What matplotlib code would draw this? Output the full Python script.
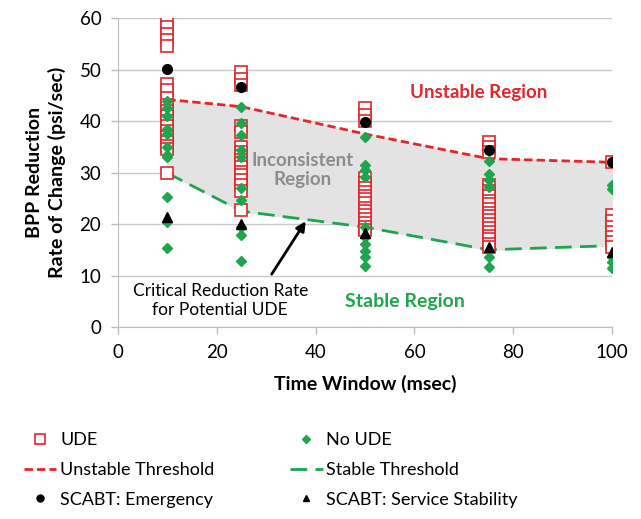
import matplotlib.pyplot as plt
from matplotlib.lines import Line2D

plt.rcParams['font.family'] = ['Lato', 'DejaVu Sans']

# --- dados ---
janelas = [10, 25, 50, 75, 100]

ude = {
    10: [59.5, 58.3, 57, 55.8, 54.5, 47.2, 46, 44.5, 43.2, 42, 41, 40, 39, 38, 37, 36, 35.2, 34.5, 30],
    25: [49.5, 48.2, 47, 39, 37.8, 35, 34, 33.2, 32.5, 31.8, 31, 30.2, 29.5, 28.5, 27.5, 26.5, 22.8],
    50: [42.5, 41.2, 40, 29, 28, 27, 26.2, 25.5, 24.8, 24, 23.2, 22.5, 21.8, 21, 20.2, 19.5, 18.8],
    75: [36, 35, 34, 27.5, 26.5, 25.5, 24.5, 23.8, 23, 22.2, 21.5, 20.8, 20, 19.2, 18.5, 17.7, 17, 16.2, 15.5],
    100: [32, 21.8, 20.5, 19.5, 18.5, 17.5, 16.5, 15.5],
}
sem_ude = {
    10: [44, 42.5, 41, 38.5, 37.5, 35, 33.5, 33, 25.3, 20.3, 15.4],
    25: [42.8, 39.6, 37.3, 34.4, 33, 27, 24.6, 19.4, 17.8, 12.9],
    50: [37, 31.4, 30.5, 29.2, 19.4, 17.4, 16.2, 14.8, 13.5, 11.9],
    75: [32.2, 29.8, 28.5, 27.2, 13.5, 11.6],
    100: [27.5, 26.8, 13.5, 12.6, 11.4],
}
emergencia = [50.1, 46.7, 39.9, 34.4, 32.1]
estabilidade = [21.3, 20.1, 18.2, 15.5, 14.5]
limiar_instavel = [44.2, 42.8, 37.5, 32.7, 32.0]
limiar_estavel = [29.9, 22.5, 19.4, 15.0, 15.8]

vermelho = '#e3262b'
verde = '#1ea54e'
cinza_eixo = '#bdbdbd'

fig = plt.figure(figsize=(6.41, 5.19), dpi=100)
ax = fig.add_axes([0.184, 0.37, 0.771, 0.595])

# região inconsistente
ax.fill_between(janelas, limiar_estavel, limiar_instavel, color='#e3e3e3', zorder=1)
ax.plot(janelas, limiar_instavel, color=vermelho, lw=2, dashes=(3, 1.5), zorder=2)
ax.plot(janelas, limiar_estavel, color=verde, lw=2, dashes=(6, 3), zorder=2)

for t in janelas:
    ax.plot([t] * len(ude[t]), ude[t], ls='none', marker='s', ms=8.5,
            mfc='white', mec=vermelho, mew=1.2, zorder=3)
for t in janelas:
    ax.plot([t] * len(sem_ude[t]), sem_ude[t], ls='none', marker='D', ms=5.5,
            color=verde, zorder=4)
ax.plot(janelas, emergencia, ls='none', marker='o', ms=7, color='black', zorder=5)
ax.plot(janelas, estabilidade, ls='none', marker='^', ms=7, color='black', zorder=5)

# textos
ax.text(73, 45.5, 'Unstable Region', color=vermelho, fontsize=13.5, fontweight='bold',
        ha='center', va='center')
ax.text(37.4, 30.5, 'Inconsistent\nRegion', color='#8c8c8c', fontsize=13.5, fontweight='bold',
        ha='center', va='center', linespacing=1.15)
ax.text(58, 5, 'Stable Region', color=verde, fontsize=14, fontweight='bold',
        ha='center', va='center')
ax.text(20.7, 5.2, 'Critical Reduction Rate\nfor Potential UDE', fontsize=12.5,
        ha='center', va='center', linespacing=1.2,
        bbox=dict(facecolor='white', edgecolor='none', pad=1))
ax.annotate('', xy=(38.3, 21), xytext=(30.8, 9.8),
            arrowprops=dict(arrowstyle='-|>', color='black', lw=2, mutation_scale=14))

ax.set_xlim(0, 100)
ax.set_ylim(0, 60)
ax.set_xticks(range(0, 101, 20))
ax.set_yticks(range(0, 61, 10))
ax.tick_params(labelsize=13.5, length=5, width=1, color=cinza_eixo, pad=7)
ax.yaxis.grid(True, color='#c8c8c8', lw=1)
ax.set_axisbelow(True)
for lado in ['top', 'right']:
    ax.spines[lado].set_visible(False)
for lado in ['bottom', 'left']:
    ax.spines[lado].set_color(cinza_eixo)
ax.set_xlabel('Time Window (msec)', fontsize=14, fontweight='bold', labelpad=10)
ax.set_ylabel('BPP Reduction\nRate of Change (psi/sec)', fontsize=14, fontweight='bold',
              labelpad=10, linespacing=1.3)

handles = [
    Line2D([], [], ls='none', marker='s', ms=7, mfc='white', mec=vermelho, mew=1.2),
    Line2D([], [], color=vermelho, lw=2, dashes=(3, 1.5)),
    Line2D([], [], ls='none', marker='o', ms=5, color='black'),
    Line2D([], [], ls='none', marker='D', ms=4, color=verde),
    Line2D([], [], color=verde, lw=2, dashes=(6, 3)),
    Line2D([], [], ls='none', marker='^', ms=5, color='black'),
]
rotulos = ['UDE', 'Unstable Threshold', 'SCABT: Emergency',
           'No UDE', 'Stable Threshold', 'SCABT: Service Stability']
fig.legend(handles, rotulos, ncol=2, loc='upper left', bbox_to_anchor=(0.012, 0.198),
           frameon=False, fontsize=13, handlelength=1.8, handletextpad=0.2,
           columnspacing=4.2, labelspacing=0.75)

plt.savefig('out.png', dpi=100)
